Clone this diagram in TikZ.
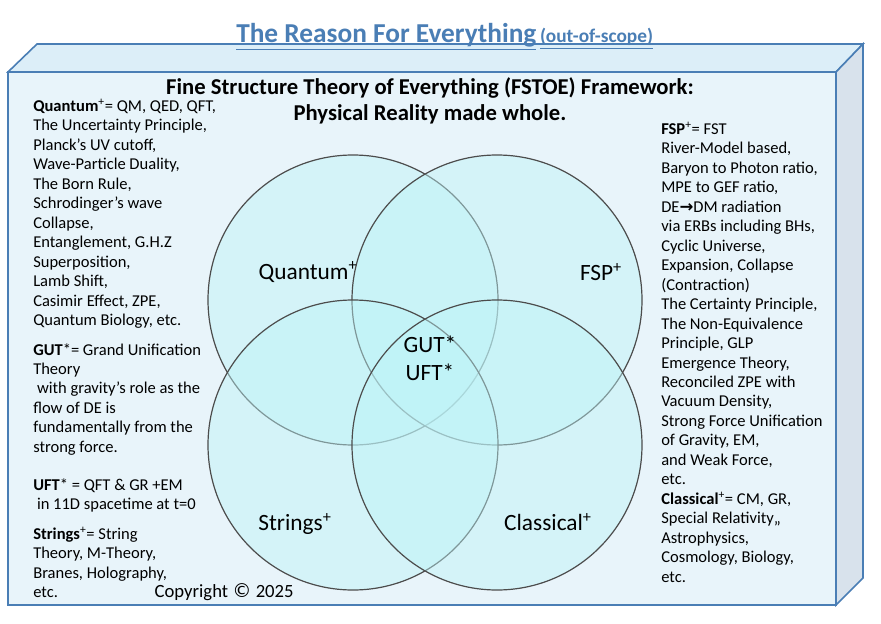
\documentclass[tikz,border=0pt]{standalone}
\usepackage{fontspec}
\setmainfont{Carlito}
\newfontfamily\symf{DejaVu Sans}
\begin{document}
\begin{tikzpicture}[x=0.75pt,y=-0.75pt,
  face/.style={draw=frameblue,line width=1.2pt},
  venn/.style={draw=black!70,line width=0.9pt,fill=venncol,fill opacity=0.45},
  col/.style={anchor=north west,align=left,font=\fontsize{12.4}{14.6}\selectfont,inner sep=0pt},
  lab/.style={font=\fontsize{17.5}{20}\selectfont},
  head/.style={font=\bfseries\fontsize{17}{19.5}\selectfont,align=center}]
\definecolor{frameblue}{HTML}{4A7EB5}
\definecolor{frontfill}{HTML}{E8F4FA}
\definecolor{topfill}{HTML}{DCEEF8}
\definecolor{sidefill}{HTML}{D8E2EC}
\definecolor{venncol}{HTML}{BDF3F7}
\useasboundingbox (0,0) rectangle (881,624);
\fill[white] (0,0) rectangle (881,624);
\filldraw[face,fill=topfill] (8,72) -- (37,44) -- (863,44) -- (836,72) -- cycle;
\filldraw[face,fill=sidefill] (836,72) -- (863,44) -- (863,578) -- (836,605) -- cycle;
\filldraw[face,fill=frontfill] (8,72) rectangle (836,605);
\node[font=\bfseries\fontsize{20.5}{22}\selectfont,text=frameblue,anchor=base west,inner sep=0pt] (title) at (236,43) {\underline{The Reason For Everything}};
\node[font=\bfseries\fontsize{14.5}{16}\selectfont,text=frameblue,anchor=base west,inner sep=0pt] (sub) at (title.base east) {\,\underline{(out-of-scope)}};
\node[head] (h) at (430,101) {Fine Structure Theory of Everything (FSTOE) Framework:\\Physical Reality made whole.};
\draw[venn] (353,300) circle (145);
\draw[venn] (497,300) circle (145);
\draw[venn] (353,445) circle (145);
\draw[venn] (497,445) circle (145);
\node[lab] (q) at (308,272) {Quantum\textsuperscript{+}};
\node[lab] (f) at (601,272) {FSP\textsuperscript{+}};
\node[lab,align=center,font=\fontsize{17.5}{21}\selectfont] (g) at (430,358) {GUT*\\UFT*};
\node[lab] (s) at (295,524) {Strings\textsuperscript{+}};
\node[lab] (c) at (548,522) {Classical\textsuperscript{+}};
\node[col] (l1) at (33,99) {\textbf{Quantum}\textsuperscript{+}= QM, QED, QFT,\\The Uncertainty Principle,\\Planck's UV cutoff,\\Wave-Particle Duality,\\The Born Rule,\\Schrodinger's wave\\Collapse,\\Entanglement, G.H.Z\\Superposition,\\Lamb Shift,\\Casimir Effect, ZPE,\\Quantum Biology, etc.};
\node[col] (l2) at (33,343) {\textbf{GUT}*= Grand Unification\\Theory\\\ with gravity's role as the\\flow of DE is\\fundamentally from the\\strong force.};
\node[col] (l3) at (33,478) {\textbf{UFT}* = QFT \& GR +EM\\\ in\ 11D spacetime at t=0};
\node[col] (l4) at (33,527) {\textbf{Strings}\textsuperscript{+}= String\\Theory, M-Theory,\\Branes, Holography,\\etc.};
\node[font=\fontsize{14}{16}\selectfont,anchor=west] (cp) at (150,592) {Copyright {\Large\symf ©} 2025};
\node[col] (r1) at (661,122) {\textbf{FSP}\textsuperscript{+}= FST\\River-Model based,\\Baryon to Photon ratio,\\MPE to GEF ratio,\\DE{\symf\textbf{→}}DM radiation\\via ERBs including BHs,\\Cyclic Universe,\\Expansion, Collapse\\(Contraction)\\The Certainty Principle,\\The Non-Equivalence\\Principle, GLP\\Emergence Theory,\\Reconciled ZPE with\\Vacuum Density,\\Strong Force Unification\\of Gravity, EM,\\and Weak Force,\\etc.};
\node[col] (r2) at (661,492) {\textbf{Classical}\textsuperscript{+}= CM, GR,\\Special Relativity,,\\Astrophysics,\\Cosmology, Biology,\\etc.};
\end{tikzpicture}
\end{document}
